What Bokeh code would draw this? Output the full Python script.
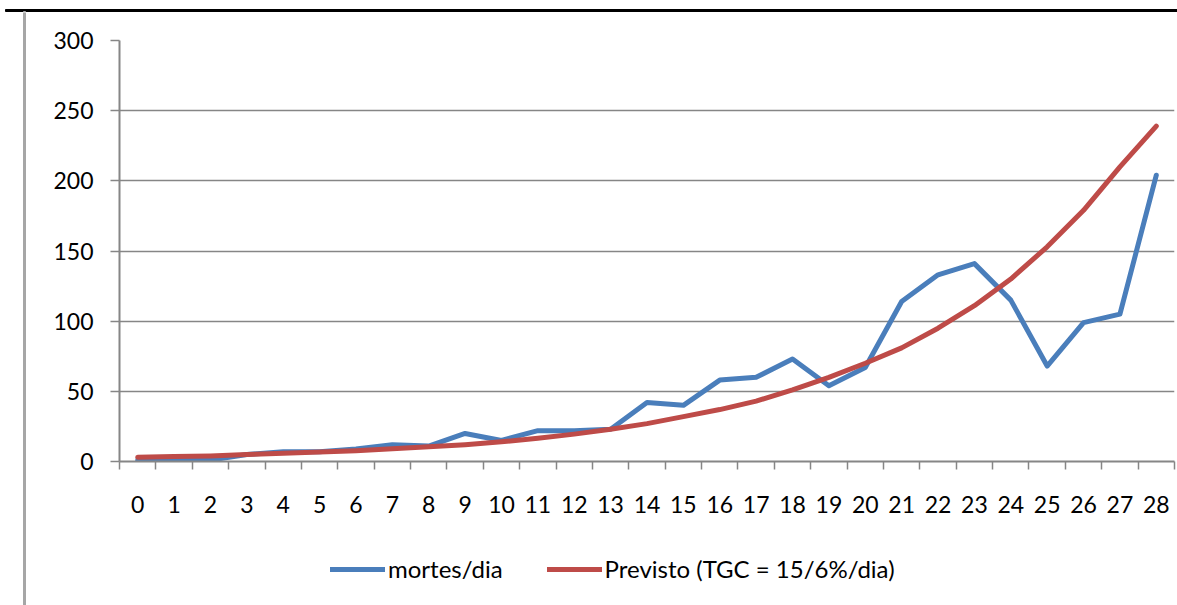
from bokeh.plotting import figure
from bokeh.layouts import column, row
from bokeh.models import Range1d, FixedTicker, Legend, LegendItem
from bokeh.embed import file_html
from bokeh.resources import INLINE

dias = list(range(29))
mortes_dia = [1, 2, 1, 5, 7, 7, 9, 12, 11, 20, 15, 22, 22, 23, 42, 40, 58, 60, 73,
              54, 67, 114, 133, 141, 115, 68, 99, 105, 204]
previsto = [3, 3.5, 4, 5, 5.8, 6.7, 7.7, 9, 10.5, 12, 14, 16.5, 19.5, 23, 27, 32,
            37, 43, 51, 60, 70, 81, 95, 111, 130, 153, 179, 210, 239]
y_ticks = [0, 50, 100, 150, 200, 250, 300]
serie_nomes = ["mortes/dia", "Previsto (TGC = 15/6%/dia)"]

GRAY = "#868686"
BLUE = "#4A7EBB"
RED = "#BE4B48"
FONT = "Lato"


def blank(w, h):
    f = figure(width=w, height=h, output_backend="svg", toolbar_location=None,
               x_range=Range1d(0, w), y_range=Range1d(0, h),
               x_axis_type=None, y_axis_type=None,
               min_border=0, min_border_left=0, min_border_right=0,
               min_border_top=0, min_border_bottom=0)
    f.outline_line_color = None
    f.xgrid.visible = False
    f.ygrid.visible = False
    f.background_fill_color = "white"
    f.border_fill_color = "white"
    return f


# page decorations: rule above the chart and the chart's left border
top = blank(1177, 12)
top.quad(left=[5], right=[1177], bottom=[1], top=[3], color="black")
top.quad(left=[23], right=[25], bottom=[0], top=[1], color="#a6a6a6")

side = blank(26, 593)
side.quad(left=[23], right=[25], bottom=[0], top=[593], color="#a6a6a6")

# main chart
p = figure(width=1151, height=540, output_backend="svg", toolbar_location=None,
           x_range=Range1d(-0.5, 28.5), y_range=Range1d(0, 300),
           min_border_left=93, min_border_right=3, min_border_top=28,
           min_border_bottom=91)
p.outline_line_color = None
p.background_fill_color = "white"
p.border_fill_color = "white"

p.xaxis.ticker = FixedTicker(ticks=dias, minor_ticks=[d - 0.5 for d in range(30)])
p.xaxis.major_tick_out = 0
p.xaxis.major_tick_in = 0
p.xaxis.minor_tick_out = 8
p.xaxis.minor_tick_in = 0
p.xaxis.minor_tick_line_color = GRAY
p.xaxis.minor_tick_line_width = 1.5
p.xaxis.axis_line_color = GRAY
p.xaxis.axis_line_width = 2
p.xaxis.major_label_text_font = FONT
p.xaxis.major_label_text_font_size = "23px"
p.xaxis.major_label_text_color = "black"
p.xaxis.major_label_standoff = 26

p.yaxis.ticker = FixedTicker(ticks=y_ticks)
p.yaxis.major_tick_out = 9
p.yaxis.major_tick_in = 0
p.yaxis.minor_tick_out = 0
p.yaxis.minor_tick_in = 0
p.yaxis.major_tick_line_color = GRAY
p.yaxis.major_tick_line_width = 1.5
p.yaxis.axis_line_color = GRAY
p.yaxis.axis_line_width = 2
p.yaxis.major_label_text_font = FONT
p.yaxis.major_label_text_font_size = "23px"
p.yaxis.major_label_text_color = "black"
p.yaxis.major_label_standoff = 17

p.xgrid.grid_line_color = None
p.ygrid.ticker = FixedTicker(ticks=y_ticks)
p.ygrid.grid_line_color = GRAY
p.ygrid.grid_line_width = 1.5

p.line(dias, mortes_dia, line_color=BLUE, line_width=5,
       line_join="round", line_cap="round")
p.line(dias, previsto, line_color=RED, line_width=5,
       line_join="round", line_cap="round")

# legend strip below the chart (sample lines kept outside the visible range)
lg = blank(1151, 53)
g1 = lg.line(x=[-100, -90], y=[-100, -100], line_color=BLUE, line_width=5,
             line_cap="round")
g2 = lg.line(x=[-100, -90], y=[-100, -100], line_color=RED, line_width=5,
             line_cap="round")
legend = Legend(items=[LegendItem(label=serie_nomes[0], renderers=[g1]),
                       LegendItem(label=serie_nomes[1], renderers=[g2])],
                orientation="horizontal", location=(211, 22),
                glyph_width=55, glyph_height=20, label_standoff=3, spacing=44,
                label_text_font=FONT, label_text_font_size="24px",
                label_text_color="black",
                border_line_color=None, background_fill_alpha=0,
                margin=0, padding=0)
lg.add_layout(legend, "center")

layout = column(top, row(side, column(p, lg, spacing=0), spacing=0), spacing=0)

open("out.html", "w").write(file_html(layout, INLINE))
